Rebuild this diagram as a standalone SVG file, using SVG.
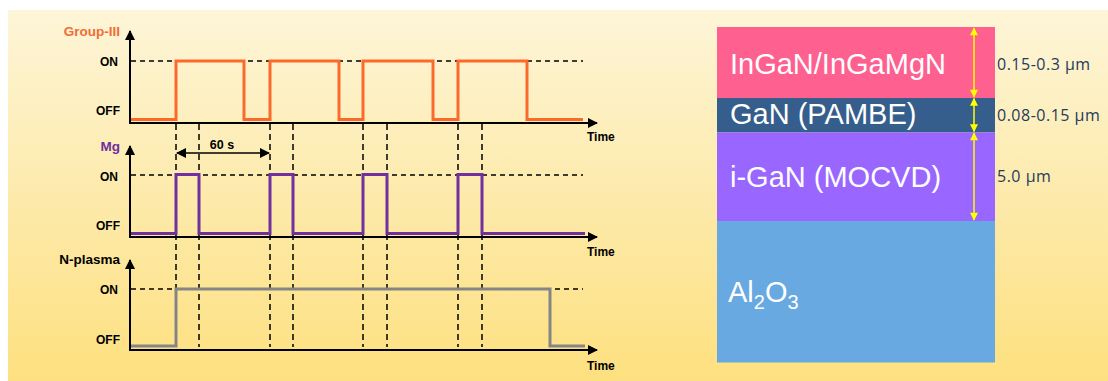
<svg xmlns="http://www.w3.org/2000/svg" width="1108" height="381" viewBox="0 0 1108 381">
<defs>
<linearGradient id="bg" x1="0" y1="0" x2="0" y2="1">
<stop offset="0" stop-color="#fdf5d8"/>
<stop offset="1" stop-color="#fde07f"/>
</linearGradient>
<marker id="ah" viewBox="0 0 10 10" refX="9" refY="5" markerWidth="10" markerHeight="10" markerUnits="userSpaceOnUse" orient="auto-start-reverse">
<path d="M0,0 L10,5 L0,10 Z" fill="#000"/>
</marker>
<marker id="ya" viewBox="0 0 10 10" refX="9" refY="5" markerWidth="9" markerHeight="8" markerUnits="userSpaceOnUse" orient="auto-start-reverse">
<path d="M0,0 L10,5 L0,10 Z" fill="#ffff00"/>
</marker>
<style>
.ax{stroke:#000;stroke-width:2;fill:none}
.dh{stroke:#000;stroke-width:1.5;stroke-dasharray:5 4;fill:none}
.dv{stroke:#000;stroke-width:1.5;stroke-dasharray:6 4;fill:none}
.lab{font-family:"Liberation Sans",Arial,sans-serif;font-weight:bold;font-size:12px;fill:#000}
.nm{font-family:"Liberation Sans",Arial,sans-serif;font-weight:bold;font-size:13.5px}
.sig{fill:none;stroke-width:3;stroke-linejoin:miter}
.lay{font-family:"Liberation Sans",Arial,sans-serif;font-size:29px;fill:#fff}
.dim{font-family:"Open Sans","Liberation Sans",sans-serif;font-size:16px;letter-spacing:0.5px;fill:#253b5c}
.yl{stroke:#ffff00;stroke-width:1.5;fill:none}
</style>
</defs>
<rect x="0" y="0" width="1108" height="381" fill="#fff"/>
<rect x="8" y="10" width="1100" height="371" fill="url(#bg)"/>

<g id="vertical-guides">
<path class="dv" d="M176,124V347 M199,124V347 M270,124V347 M293,124V347 M363,124V347 M387,124V347 M458,124V347 M482,124V347"/>
</g>

<g id="group-iii-panel">
<text class="nm" x="120" y="36" text-anchor="end" fill="#f26b35">Group-III</text>
<text class="lab" x="118" y="66" text-anchor="end">ON</text>
<text class="lab" x="120" y="115" text-anchor="end">OFF</text>
<path class="dh" d="M131,61H583"/>
<path class="sig" stroke="#fb6a2c" d="M131,119.5H176V61H244V119.5H270V61H339V119.5H363V61H433V119.5H458V61H527V119.5H583"/>
<path class="ax" d="M130,123V31" marker-end="url(#ah)"/>
<path class="ax" d="M129,123H597" marker-end="url(#ah)"/>
<text class="lab" x="587" y="141">Time</text>
</g>

<g id="mg-panel">
<text class="nm" x="120" y="151" text-anchor="end" fill="#7030a0">Mg</text>
<text class="lab" x="118" y="181" text-anchor="end">ON</text>
<text class="lab" x="120" y="230" text-anchor="end">OFF</text>
<path class="dh" d="M131,175H583"/>
<path class="sig" stroke="#7030a0" d="M131,233.5H176V174.5H199V233.5H270V174.5H293V233.5H363V174.5H387V233.5H458V174.5H482V233.5H585"/>
<path class="ax" d="M130,237V146" marker-end="url(#ah)"/>
<path class="ax" d="M129,237H597" marker-end="url(#ah)"/>
<text class="lab" x="587" y="256">Time</text>
<path stroke="#000" stroke-width="1.5" fill="none" d="M177,153H269" marker-start="url(#ah)" marker-end="url(#ah)"/>
<text class="lab" x="222" y="149" text-anchor="middle" style="font-size:12.5px">60 s</text>
</g>

<g id="n-plasma-panel">
<text class="nm" x="120" y="264" text-anchor="end" fill="#000">N-plasma</text>
<text class="lab" x="118" y="294" text-anchor="end">ON</text>
<text class="lab" x="120" y="344" text-anchor="end">OFF</text>
<path class="dh" d="M131,289H176 M555,289H583"/>
<path class="sig" stroke="#858585" stroke-width="3.5" d="M131,346H176V289H550V346H585"/>
<path class="ax" d="M130,350V260" marker-end="url(#ah)"/>
<path class="ax" d="M129,350H597" marker-end="url(#ah)"/>
<text class="lab" x="587" y="370">Time</text>
</g>

<g id="layer-ingan">
<rect x="717" y="27" width="278" height="71" fill="#fe6090"/>
<text class="lay" x="730" y="74">InGaN/InGaMgN</text>
</g>
<g id="layer-gan-pambe">
<rect x="717" y="98" width="278" height="34.5" fill="#355e8d"/>
<text class="lay" x="730" y="124">GaN (PAMBE)</text>
</g>
<g id="layer-i-gan">
<rect x="717" y="132.5" width="278" height="88.5" fill="#9966ff"/>
<text class="lay" x="730" y="187">i-GaN (MOCVD)</text>
</g>
<g id="layer-al2o3">
<rect x="717" y="221" width="278" height="141.5" fill="#68a9e1"/>
<text class="lay" x="728" y="302">Al<tspan font-size="20" dy="7">2</tspan><tspan dy="-7">O</tspan><tspan font-size="20" dy="7">3</tspan></text>
</g>

<g id="connectors">
<path class="yl" d="M974,28V97" marker-start="url(#ya)" marker-end="url(#ya)"/>
<path class="yl" d="M974,98.5V131.5" marker-start="url(#ya)" marker-end="url(#ya)"/>
<path class="yl" d="M974,133V220" marker-start="url(#ya)" marker-end="url(#ya)"/>
</g>

<g id="dimension-labels">
<text class="dim" x="997" y="70">0.15-0.3 µm</text>
<text class="dim" x="997" y="121">0.08-0.15 µm</text>
<text class="dim" x="997" y="182">5.0 µm</text>
</g>
</svg>
